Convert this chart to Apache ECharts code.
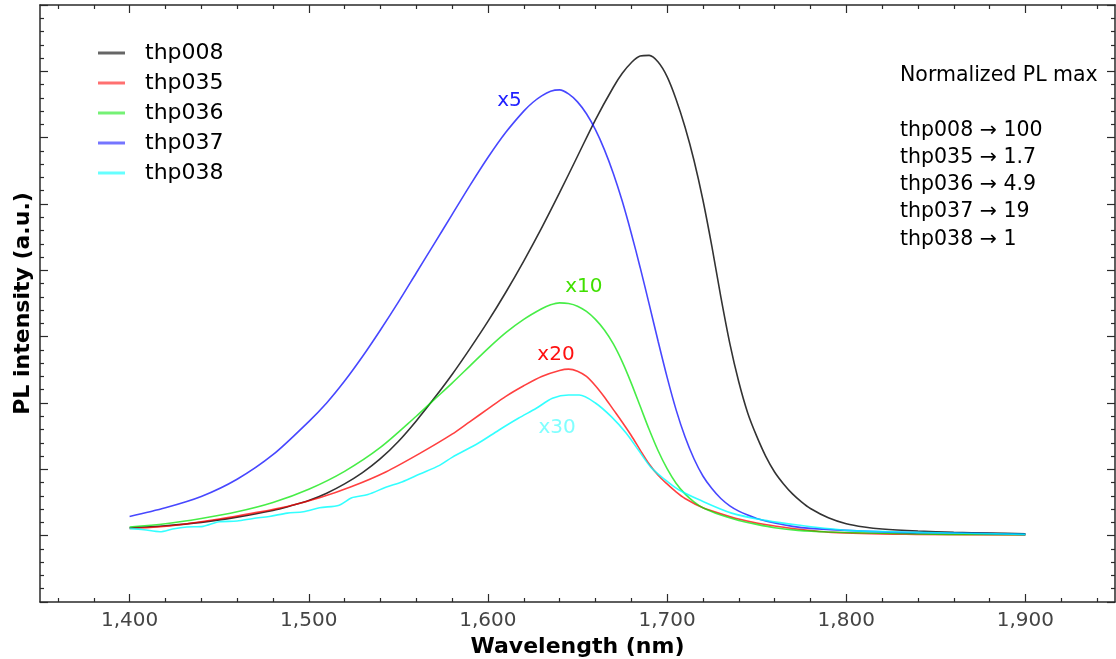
<!DOCTYPE html>
<html>
<head>
<meta charset="utf-8">
<title>PL spectra</title>
<script src="https://cdn.jsdelivr.net/npm/echarts@6/dist/echarts.min.js"></script>
<style>
  html, body { margin: 0; padding: 0; background: #fff; }
  #chart { width: 1116px; height: 659px; }
</style>
</head>
<body>
<div id="chart"></div>
<script>
// Photoluminescence spectra, [wavelength (nm), intensity (a.u., scaled)]
const thp008 = [
  [1400, 1.2], [1420, 1.5], [1440, 2.0], [1460, 2.8], [1480, 3.8], [1490, 4.5], [1500, 5.3],
  [1510, 6.4], [1520, 7.8], [1530, 9.5], [1540, 11.6], [1550, 14.2], [1560, 17.3],
  [1570, 20.7], [1580, 24.3], [1590, 28.2], [1600, 32.3], [1610, 36.7], [1620, 41.4],
  [1630, 46.4], [1640, 51.7], [1650, 57.2], [1660, 62.7], [1670, 67.6], [1675, 69.7],
  [1680, 71.3], [1685, 72.3], [1690, 72.4], [1695, 71.4], [1700, 69.2], [1705, 65.8],
  [1710, 61.6], [1715, 56.6], [1720, 50.6], [1725, 43.6], [1730, 36.0], [1735, 29.0],
  [1740, 23.2], [1745, 18.5], [1750, 15.0], [1755, 12.0], [1760, 9.6], [1765, 7.8],
  [1770, 6.3], [1775, 5.1], [1780, 4.1], [1790, 2.7], [1800, 1.8], [1810, 1.3],
  [1820, 1.0], [1840, 0.7], [1860, 0.5], [1880, 0.4], [1900, 0.3]
];
const thp035 = [
  [1400, 1.1], [1416, 1.3], [1432, 1.8], [1450, 2.5], [1469, 3.4], [1488, 4.4], [1506, 5.7],
  [1524, 7.4], [1543, 9.6], [1562, 12.4], [1580, 15.3], [1590, 17.2], [1600, 19.1],
  [1610, 21.0], [1620, 22.6], [1630, 24.0], [1640, 24.9], [1645, 25.1], [1650, 24.8],
  [1655, 24.0], [1660, 22.6], [1665, 20.9], [1670, 19.0], [1675, 17.1], [1680, 15.1],
  [1685, 12.9], [1690, 10.8], [1695, 9.1], [1700, 7.8], [1705, 6.6], [1710, 5.6],
  [1720, 4.2], [1730, 3.3], [1740, 2.5], [1750, 1.9], [1764, 1.3], [1792, 0.5],
  [1839, 0.2], [1900, 0.1]
];
const thp036 = [
  [1400, 1.3], [1420, 1.8], [1440, 2.6], [1460, 3.6], [1480, 5.0], [1500, 7.0], [1520, 9.7],
  [1540, 13.3], [1560, 18.0], [1570, 20.5], [1580, 23.0], [1590, 25.6], [1600, 28.2],
  [1610, 30.6], [1620, 32.6], [1630, 34.2], [1635, 34.8], [1640, 35.1], [1645, 35.0],
  [1650, 34.6], [1655, 33.8], [1660, 32.6], [1665, 31.0], [1670, 28.9], [1675, 26.2],
  [1680, 23.0], [1685, 19.5], [1690, 16.0], [1695, 12.8], [1700, 10.1], [1705, 7.9],
  [1710, 6.3], [1715, 5.1], [1720, 4.2], [1730, 3.1], [1740, 2.3], [1750, 1.7],
  [1760, 1.2], [1773, 0.8], [1790, 0.55], [1811, 0.4], [1857, 0.2], [1900, 0.15]
];
const thp037 = [
  [1400, 2.9], [1420, 4.2], [1440, 5.9], [1460, 8.5], [1480, 12.2], [1500, 17.2], [1510, 20.0],
  [1520, 23.3], [1530, 27.0], [1540, 31.0], [1550, 35.2], [1560, 39.6], [1570, 44.0],
  [1580, 48.4], [1590, 52.8], [1600, 57.0], [1610, 60.8], [1620, 64.0], [1625, 65.3],
  [1630, 66.3], [1635, 67.0], [1640, 67.2], [1645, 66.6], [1650, 65.4], [1655, 63.6],
  [1660, 61.2], [1665, 58.2], [1670, 54.6], [1675, 50.4], [1680, 45.6], [1685, 40.4],
  [1690, 34.9], [1695, 29.3], [1700, 23.9], [1705, 19.0], [1710, 14.9], [1715, 11.6],
  [1720, 9.0], [1725, 7.1], [1730, 5.6], [1735, 4.5], [1740, 3.7], [1745, 3.1],
  [1750, 2.6], [1760, 1.9], [1770, 1.4], [1780, 1.1], [1800, 0.8], [1830, 0.5],
  [1860, 0.4], [1900, 0.2]
];
const thp038 = [
  [1400, 1.1], [1408, 0.9], [1417, 0.6], [1424, 1.0], [1432, 1.3], [1441, 1.4], [1450, 2.1],
  [1460, 2.2], [1469, 2.6], [1478, 2.9], [1488, 3.4], [1497, 3.6], [1506, 4.2], [1517, 4.6],
  [1524, 5.7], [1533, 6.2], [1543, 7.3], [1552, 8.1], [1562, 9.3], [1573, 10.6], [1580, 11.8],
  [1595, 14.0], [1606, 15.9], [1617, 17.7], [1627, 19.2], [1636, 20.7], [1645, 21.2],
  [1651, 21.2], [1660, 20.0], [1669, 17.9], [1677, 15.5], [1684, 12.9], [1691, 10.3],
  [1699, 8.4], [1706, 7.0], [1718, 5.4], [1736, 3.4], [1755, 2.3], [1773, 1.6],
  [1801, 0.8], [1839, 0.5], [1900, 0.2]
];

const seriesNames = ['thp008', 'thp035', 'thp036', 'thp037', 'thp038'];
const seriesData = [thp008, thp035, thp036, thp037, thp038];
const lineColors = ['rgba(0,0,0,0.8)', 'rgba(255,0,0,0.75)', 'rgba(0,230,0,0.72)', 'rgba(0,0,255,0.72)', 'rgba(0,255,255,0.8)'];

// Scale factors written next to each curve, and where they sit
const scaleTags = ['', 'x20', 'x10', 'x5', 'x30'];
const scaleTagAt = [null, [1638, 27.2], [1653.5, 37.5], [1612, 65.5], [1638.6, 16.2]];
const scaleTagColors = ['', '#ff1010', '#40e000', '#2020ff', '#80ffff'];

// Peak PL values normalised to thp008
const peakNames = ['thp008', 'thp035', 'thp036', 'thp037', 'thp038'];
const peakValues = ['100', '1.7', '4.9', '19', '1'];

const xMajor = [1400, 1500, 1600, 1700, 1800, 1900];
const xMinor = [1360, 1380, 1420, 1440, 1460, 1480, 1520, 1540, 1560, 1580, 1620, 1640,
  1660, 1680, 1720, 1740, 1760, 1780, 1820, 1840, 1860, 1880, 1920, 1940];

const FONT = 'DejaVu Sans';
const AXIS_COLOR = '#2a2a2a';

const chart = echarts.init(document.getElementById('chart'), null, { renderer: 'canvas' });

function xAxisPart(position, ticks, len, withLine, withLabels) {
  const ax = {
    type: 'value', min: 1350, max: 1950, position: position,
    axisLine: { show: withLine, onZero: false, lineStyle: { color: AXIS_COLOR, width: 1.5 } },
    axisTick: { show: true, inside: true, length: len, customValues: ticks, lineStyle: { color: AXIS_COLOR, width: 1.2 } },
    axisLabel: { show: false },
    splitLine: { show: false }
  };
  if (withLabels) {
    ax.axisLabel = {
      show: true, customValues: ticks, margin: 9,
      fontFamily: FONT, fontSize: 20, color: '#444',
      formatter: v => v.toLocaleString('en-US')
    };
    ax.name = 'Wavelength (nm)';
    ax.nameLocation = 'middle';
    ax.nameGap = 32;
    ax.nameTextStyle = { fontFamily: FONT, fontSize: 22, fontWeight: 'bold', color: '#000' };
  }
  return ax;
}

function yAxisPart(position, withName) {
  const ax = {
    type: 'value', min: -10, max: 80, interval: 10, position: position,
    axisLine: { show: true, onZero: false, lineStyle: { color: AXIS_COLOR, width: 1.5 } },
    axisTick: { show: true, inside: true, length: 8, lineStyle: { color: AXIS_COLOR, width: 1.2 } },
    minorTick: { show: true, splitNumber: 5, length: 4, lineStyle: { color: AXIS_COLOR, width: 1.2 } },
    axisLabel: { show: false },
    splitLine: { show: false }
  };
  if (withName) {
    ax.name = 'PL intensity (a.u.)';
    ax.nameLocation = 'middle';
    ax.nameGap = 6;
    ax.nameTextStyle = { fontFamily: FONT, fontSize: 22, fontWeight: 'bold', color: '#000' };
  }
  return ax;
}

const series = seriesNames.map((name, i) => {
  const s = {
    name: name,
    type: 'line',
    xAxisIndex: 0,
    yAxisIndex: 0,
    data: seriesData[i],
    showSymbol: false,
    symbol: 'none',
    smooth: 0.3,
    color: lineColors[i],
    lineStyle: { width: 1.6, color: lineColors[i] },
    z: 2 + i
  };
  if (scaleTagAt[i]) {
    s.markPoint = {
      symbol: 'circle', symbolSize: 1,
      itemStyle: { color: 'rgba(0,0,0,0)' },
      label: {
        show: true, position: 'inside', formatter: scaleTags[i],
        fontFamily: FONT, fontSize: 20, color: scaleTagColors[i]
      },
      data: [{ coord: scaleTagAt[i] }]
    };
  }
  return s;
});

const noteText = 'Normalized PL max\n\n' +
  peakNames.map((n, i) => n + ' \u2192 ' + peakValues[i]).join('\n');

chart.setOption({
  backgroundColor: '#fff',
  animation: false,
  grid: { left: 40, right: 1, top: 5, bottom: 57, containLabel: false, outerBoundsMode: 'none' },
  legend: {
    orient: 'vertical', left: 98, top: 42, padding: 0,
    data: seriesNames,
    icon: 'rect', itemWidth: 27, itemHeight: 3, itemGap: 8,
    itemStyle: { opacity: 0.75 },
    textStyle: { fontFamily: FONT, fontSize: 22, color: '#000', lineHeight: 22, padding: [0, 0, 0, 15] }
  },
  xAxis: [
    xAxisPart('bottom', xMajor, 8, true, true),
    xAxisPart('bottom', xMinor, 4, false, false),
    xAxisPart('top', xMajor, 8, true, false),
    xAxisPart('top', xMinor, 4, false, false)
  ],
  yAxis: [
    yAxisPart('left', true),
    yAxisPart('right', false)
  ],
  graphic: [{
    type: 'text', left: 900, top: 62,
    style: { text: noteText, font: '20.5px "DejaVu Sans"', lineHeight: 27.3, fill: '#000' }
  }],
  series: series
});
</script>
</body>
</html>
